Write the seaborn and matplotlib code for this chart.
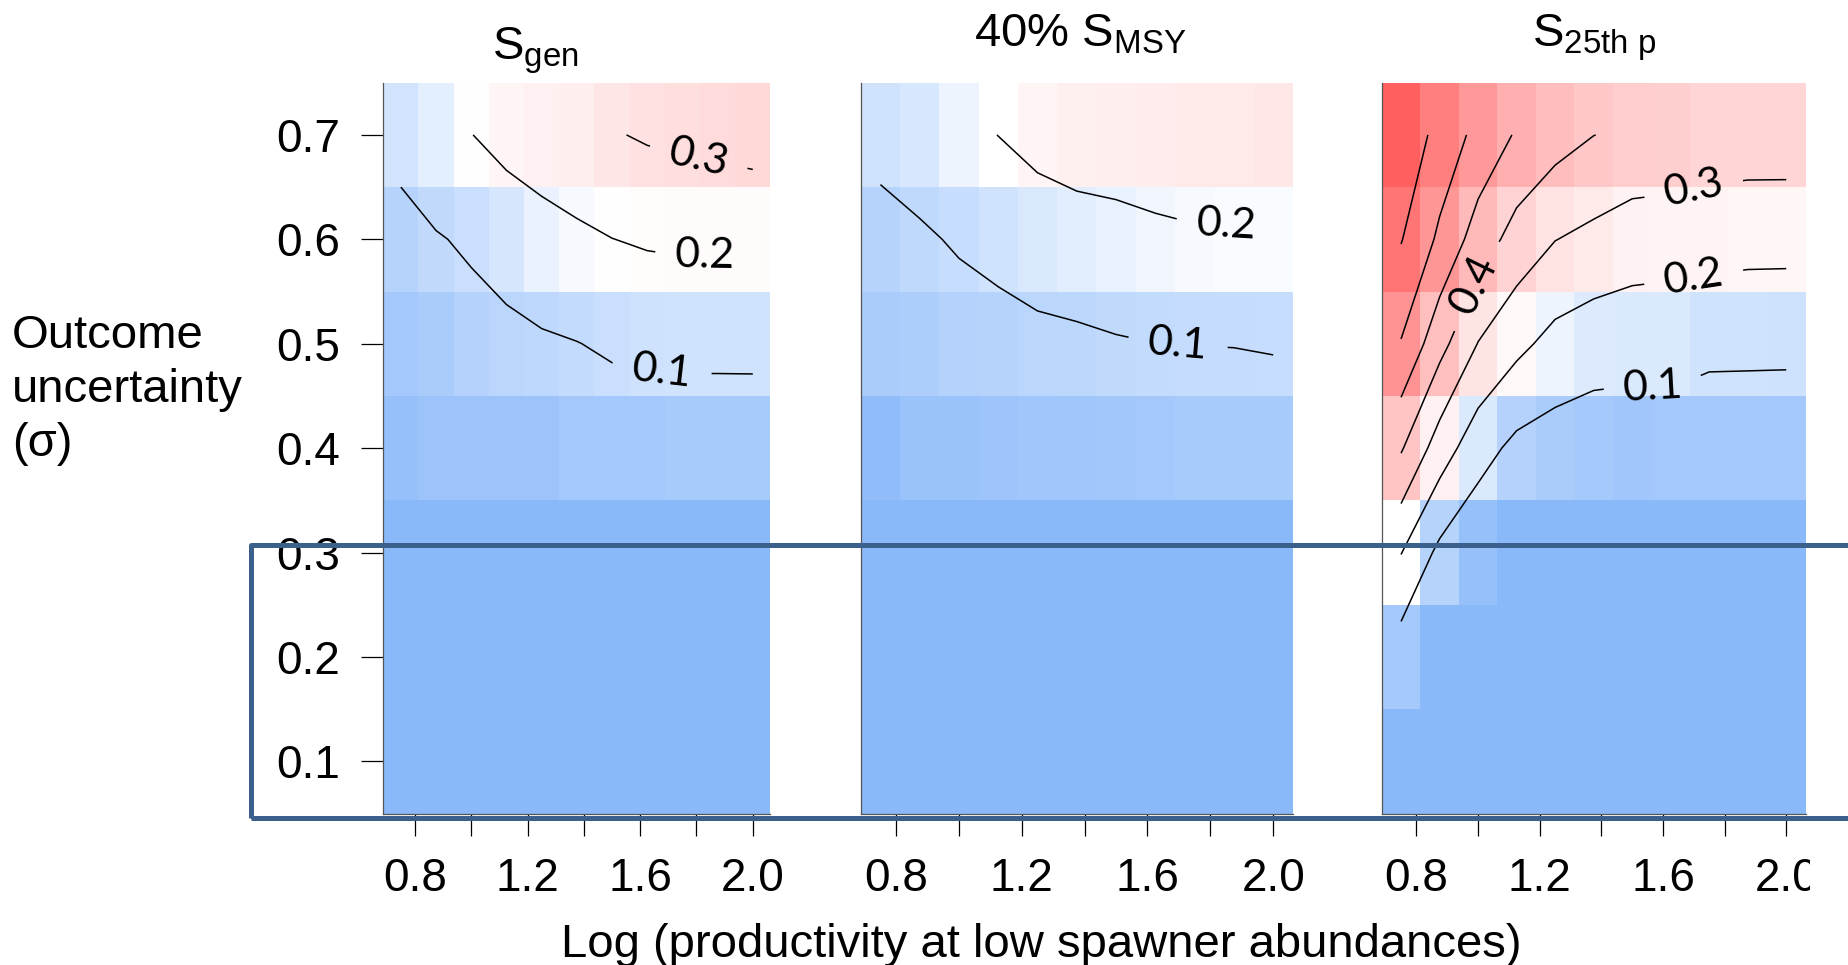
import numpy as np
import pandas as pd
import matplotlib
matplotlib.use("Agg")
import matplotlib.pyplot as plt
import seaborn as sns
from matplotlib.colors import LinearSegmentedColormap
from matplotlib.patches import Rectangle
from matplotlib.transforms import Bbox

# ---------------- data ----------------
log_prod = [0.75, 0.875, 1.0, 1.125, 1.25, 1.375, 1.5, 1.625, 1.75, 1.875, 2.0]
sigma = [0.1, 0.2, 0.3, 0.4, 0.5, 0.6, 0.7]

x_tick_values = [0.8, 1.0, 1.2, 1.4, 1.6, 1.8, 2.0]
x_tick_labels = ["0.8", "", "1.2", "", "1.6", "", "2.0"]
y_tick_labels = ["0.1", "0.2", "0.3", "0.4", "0.5", "0.6", "0.7"]
contour_levels = [0.1, 0.2, 0.3, 0.4, 0.5, 0.6, 0.7]

# rows: sigma 0.1 -> 0.7 ; columns: log_prod
sgen = [
    [0, 0, 0, 0, 0, 0, 0, 0, 0, 0, 0],
    [0, 0, 0, 0, 0, 0, 0, 0, 0, 0, 0],
    [0, 0, 0, 0, 0, 0, 0, 0, 0, 0, 0],
    [0.021, 0.034, 0.034, 0.034, 0.034, 0.046, 0.046, 0.046, 0.05, 0.05, 0.051],
    [0.046, 0.055, 0.073, 0.082, 0.089, 0.098, 0.112, 0.118, 0.12, 0.12, 0.12],
    [0.078, 0.095, 0.11, 0.13, 0.165, 0.185, 0.199, 0.21, 0.215, 0.215, 0.215],
    [0.122, 0.155, 0.198, 0.236, 0.25, 0.26, 0.293, 0.31, 0.32, 0.33, 0.342],
]
smsy40 = [
    [0, 0, 0, 0, 0, 0, 0, 0, 0, 0, 0],
    [0, 0, 0, 0, 0, 0, 0, 0, 0, 0, 0],
    [0, 0, 0, 0, 0, 0, 0, 0, 0, 0, 0],
    [0.012, 0.029, 0.03, 0.035, 0.04, 0.04, 0.043, 0.046, 0.05, 0.05, 0.05],
    [0.055, 0.06, 0.073, 0.076, 0.084, 0.086, 0.094, 0.0995, 0.101, 0.102, 0.106],
    [0.078, 0.092, 0.106, 0.12, 0.135, 0.152, 0.162, 0.178, 0.186, 0.188, 0.19],
    [0.12, 0.132, 0.17, 0.201, 0.237, 0.256, 0.262, 0.266, 0.279, 0.28, 0.29],
]
s25p = [
    [0, 0, 0, 0, 0, 0, 0, 0, 0, 0, 0],
    [0.047, 0, 0, 0, 0, 0, 0, 0, 0, 0, 0],
    [0.203, 0.077, 0.02, 0, 0, 0, 0, 0, 0, 0, 0],
    [0.41, 0.251, 0.14, 0.075, 0.056, 0.047, 0.04, 0.046, 0.046, 0.046, 0.046],
    [0.595, 0.434, 0.297, 0.225, 0.169, 0.143, 0.14, 0.14, 0.12, 0.119, 0.118],
    [0.705, 0.582, 0.455, 0.361, 0.302, 0.276, 0.248, 0.24, 0.241, 0.233, 0.232],
    [0.78, 0.665, 0.572, 0.49, 0.44, 0.401, 0.382, 0.378, 0.354, 0.351, 0.351],
]

titles = [r"$\mathregular{S_{gen}}$", r"40% $\mathregular{S_{MSY}}$", r"$\mathregular{S_{25th\ p}}$"]
panels = [sgen, smsy40, s25p]

# contour-label anchor points (data units), per panel
label_spots = [
    [(1.678, 0.477), (1.830, 0.584), (1.809, 0.680)],
    [(1.697, 0.501), (1.850, 0.614)],
    [(1.570, 0.463), (1.700, 0.563), (1.700, 0.648), (0.997, 0.555)],
]
label_levels = [[0.1, 0.2, 0.3], [0.1, 0.2], [0.1, 0.2, 0.3, 0.4]]

# ---------------- style ----------------
sns.set_theme(style="white")
plt.rcParams["font.family"] = ["Liberation Sans", "DejaVu Sans"]
plt.rcParams["mathtext.fontset"] = "custom"
plt.rcParams["mathtext.rm"] = "Liberation Sans"
plt.rcParams["mathtext.it"] = "Liberation Sans:italic"
plt.rcParams["mathtext.bf"] = "Liberation Sans:bold"
for key in ["text.color", "axes.labelcolor", "xtick.color", "ytick.color"]:
    plt.rcParams[key] = "black"

cmap = LinearSegmentedColormap.from_list(
    "bwr_soft", [(0.0, "#8ab9fa"), (0.25, "#ffffff"), (1.0, "#ff5a5a")])
VMIN, VMAX = 0.0, 0.8

W, H = 1848, 965
fig = plt.figure(figsize=(W / 100, H / 100), dpi=100)

axes_px = [(383.3, 770.4), (860.8, 1292.8), (1381.8, 1805.5)]
top_px, bot_px = 82.7, 813.5

dx = log_prod[1] - log_prod[0]
dy = sigma[1] - sigma[0]


def to_cell_x(v):
    return (v - log_prod[0]) / dx + 0.5


def to_cell_y(v):
    return (v - sigma[0]) / dy + 0.5


title_pos = [(535, 60), (1080, 46.7), (1594, 46.7)]

for k, (data, (x0, x1)) in enumerate(zip(panels, axes_px)):
    ax = fig.add_axes([x0 / W, 1 - bot_px / H, (x1 - x0) / W, (bot_px - top_px) / H])
    df = pd.DataFrame(data, index=sigma, columns=log_prod)
    sns.heatmap(df, ax=ax, cmap=cmap, vmin=VMIN, vmax=VMAX, cbar=False,
                linewidths=0, xticklabels=False, yticklabels=False)
    ax.set_ylim(0, len(sigma))
    ax.set_xlim(0, len(log_prod))

    Z = np.array(data, dtype=float)
    cs = ax.contour(np.arange(len(log_prod)) + 0.5, np.arange(len(sigma)) + 0.5, Z,
                    levels=contour_levels, colors="black", linewidths=1.1)
    spots = [(to_cell_x(a), to_cell_y(b)) for a, b in label_spots[k]]
    with plt.rc_context({"font.family": ["Lato", "DejaVu Sans"], "font.weight": "normal"}):
        ax.clabel(cs, levels=label_levels[k], manual=spots, inline=True,
                  inline_spacing=20, fontsize=31, fmt="%.1f", colors="black")

    # axes decoration
    for s in ["left", "bottom"]:
        ax.spines[s].set_visible(True)
        ax.spines[s].set_color("#555555")
        ax.spines[s].set_linewidth(0.9)
    for s in ["top", "right"]:
        ax.spines[s].set_visible(False)

    ax.set_xticks([to_cell_x(v) for v in x_tick_values])
    ax.set_xticklabels(x_tick_labels, fontsize=33, rotation=0, color="black")
    ax.tick_params(axis="x", direction="out", length=16, width=0.9, color="black",
                   labelcolor="black", pad=15, bottom=True)
    if k == 0:
        ax.set_yticks([to_cell_y(v) for v in sigma])
        ax.set_yticklabels(y_tick_labels, fontsize=33, rotation=0, color="black")
        ax.tick_params(axis="y", direction="out", length=16, width=0.9, color="black",
                       labelcolor="black", pad=15, left=True)
    else:
        ax.set_yticks([])
    ax.set_xlabel("")
    ax.set_ylabel("")

    if k == 2:
        clip = Bbox.from_extents(0, 0, 1810, H)
        for t in ax.get_xticklabels():
            t.set_clip_box(clip)
            t.set_clip_on(True)

    tx, ty = title_pos[k]
    fig.text(tx / W, 1 - ty / H, titles[k], ha="center", va="baseline", fontsize=34,
             color="black")

fig.text(12 / W, 1 - 390 / H, "Outcome\nuncertainty\n(σ)", ha="left", va="center",
         fontsize=34, linespacing=1.3, color="black")
fig.text(1041.7 / W, 1 - 957 / H, "Log (productivity at low spawner abundances)",
         ha="center", va="baseline", fontsize=34, color="black")

# annotation box drawn over the figure
fig.add_artist(Rectangle((250.8 / W, 1 - 817.8 / H), (1900 - 250.8) / W, (817.8 - 544.5) / H,
                         transform=fig.transFigure, fill=False, edgecolor="#3c608c",
                         linewidth=3.6, joinstyle="round", clip_on=False, zorder=10))

fig.savefig("out.png", dpi=100)
